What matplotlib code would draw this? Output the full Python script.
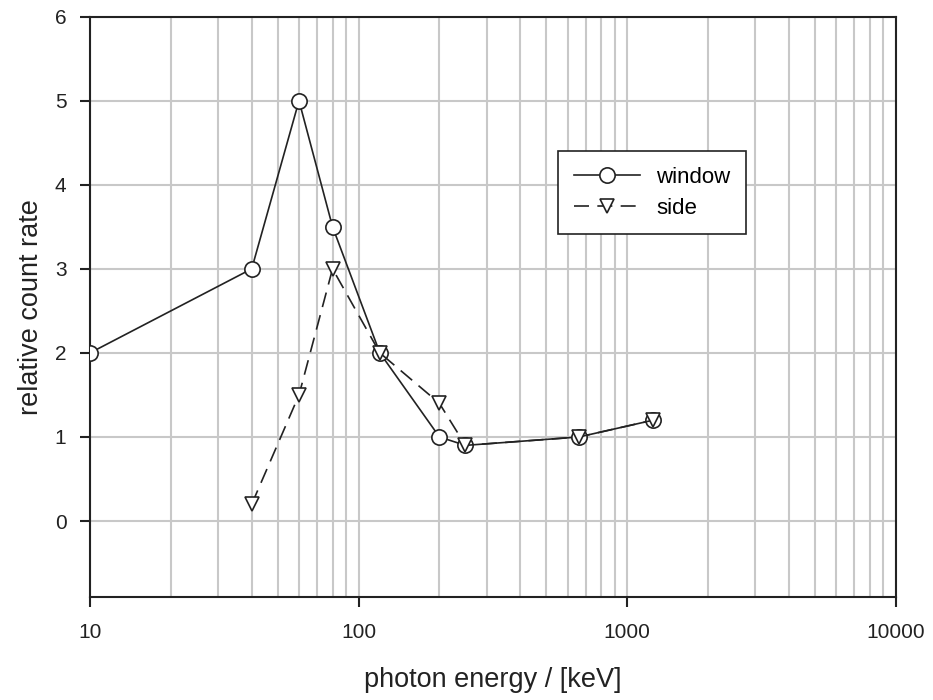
import matplotlib
matplotlib.use("Agg")
import matplotlib.pyplot as plt
from matplotlib.ticker import LogLocator, NullFormatter

plt.rcParams['font.family'] = ['Liberation Sans', 'DejaVu Sans']

window_x = [10, 40, 60, 80, 120, 200, 250, 662, 1250]
window_y = [2.0, 3.0, 5.0, 3.5, 2.0, 1.0, 0.9, 1.0, 1.2]
side_x = [40, 60, 80, 120, 200, 250, 662, 1250]
side_y = [0.2, 1.5, 3.0, 2.0, 1.4, 0.9, 1.0, 1.2]
x_ticks = [10, 100, 1000, 10000]
y_ticks = [0, 1, 2, 3, 4, 5, 6]

fig = plt.figure(figsize=(9.33, 7.0), dpi=100)
ax = fig.add_axes([0.0965, 0.1476, 0.8635, 0.8286])

ax.plot(window_x, window_y, '-', color='#222222', lw=1.2, marker='o', ms=11,
        mfc='white', mec='#222222', mew=1.2, label='window', zorder=3)
ax.plot(side_x, side_y, '--', color='#222222', lw=1.2, marker='v', ms=10,
        mfc='white', mec='#222222', mew=1.2, dashes=(9, 5), label='side', zorder=4)

ax.set_xscale('log')
ax.set_xlim(10, 10000)
ax.set_ylim(-0.9, 6)
ax.set_xticks(x_ticks)
ax.set_xticklabels([str(t) for t in x_ticks])
ax.xaxis.set_minor_locator(LogLocator(base=10, subs=range(2, 10)))
ax.xaxis.set_minor_formatter(NullFormatter())
ax.set_yticks(y_ticks)

ax.grid(True, which='major', axis='both', color='#c8c8c8', lw=1.5, zorder=0)
ax.grid(True, which='minor', axis='x', color='#c8c8c8', lw=1.5, zorder=0)
ax.set_axisbelow(True)

for s in ax.spines.values():
    s.set_color('#222222')
    s.set_linewidth(1.5)
ax.tick_params(which='major', direction='out', length=7, width=1.5, color='#222222',
               labelsize=15, labelcolor='#222222')
ax.tick_params(which='minor', length=0)
ax.tick_params(axis='x', pad=12)
ax.tick_params(axis='y', pad=10)

ax.set_xlabel('photon energy / [keV]', fontsize=19.5, color='#222222', labelpad=18)
ax.set_ylabel('relative count rate', fontsize=19.5, color='#222222', labelpad=8)

leg = ax.legend(loc='upper left', bbox_to_anchor=(0.581, 0.768), fontsize=16,
                frameon=True, fancybox=False, edgecolor='#222222', framealpha=1,
                borderpad=0.7, handlelength=3.0, labelspacing=0.45, handletextpad=0.7,
                borderaxespad=0)
leg.get_frame().set_linewidth(1.2)

fig.savefig('out.png', dpi=100)
